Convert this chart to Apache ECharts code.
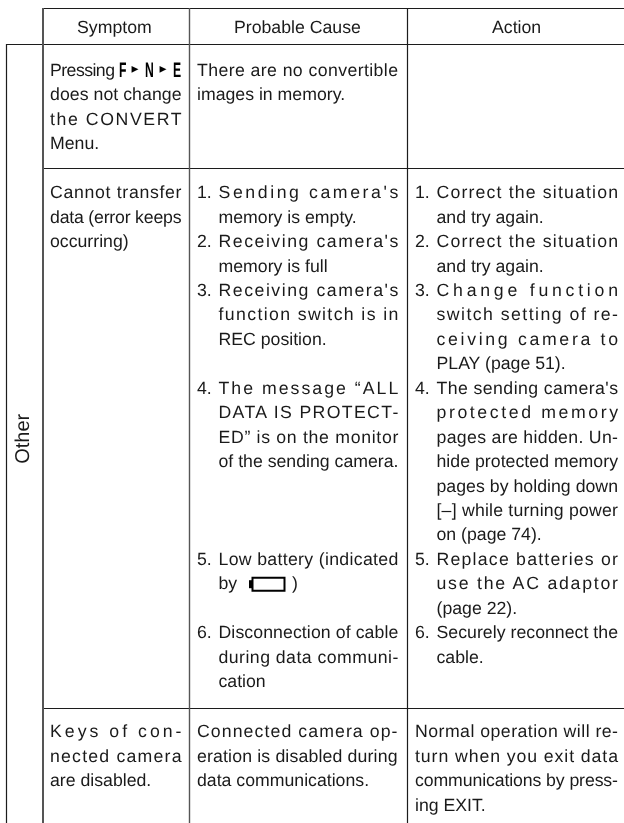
<!DOCTYPE html>
<html>
<head>
<meta charset="utf-8">
<style>
  html, body { margin: 0; padding: 0; background: #fff; }
  #main { width: 624px; height: 823px; }
</style>
<script src="https://cdn.jsdelivr.net/npm/echarts@6/dist/echarts.min.js"></script>
</head>
<body>
<div id="main"></div>
<script>
// table text, one entry per line of the page grid, '' is an empty grid line
const headers = ['Symptom', 'Probable Cause', 'Action'];
const sideLabel = 'Other';
const pressingWord = 'Pressing';
const keyLabels = ['F', 'N', 'E'];
const keyArrow = '\u25B8';
const batteryClose = ')';

const symptomRow1 = ['', 'does not change', 'the CONVERT', 'Menu.'];
const causeRow1 = ['There are no convertible', 'images in memory.'];

const symptomRow2 = ['Cannot transfer', 'data (error keeps', 'occurring)'];
const causeRow2 = [
  "1. Sending camera's", 'memory is empty.',
  "2. Receiving camera's", 'memory is full',
  "3. Receiving camera's", 'function switch is in', 'REC position.',
  '',
  '4. The message \u201CALL', 'DATA IS PROTECT-', 'ED\u201D is on the monitor', 'of the sending camera.',
  '', '', '',
  '5. Low battery (indicated', 'by',
  '',
  '6. Disconnection of cable', 'during data communi-', 'cation'
];
const actionRow2 = [
  '1. Correct the situation', 'and try again.',
  '2. Correct the situation', 'and try again.',
  '3. Change function', 'switch setting of re-', 'ceiving camera to', 'PLAY (page 51).',
  "4. The sending camera's", 'protected memory', 'pages are hidden. Un-', 'hide protected memory', 'pages by holding down', '[\u2013] while turning power', 'on (page 74).',
  '5. Replace batteries or', 'use the AC adaptor', '(page 22).',
  '6. Securely reconnect the', 'cable.'
];

const symptomRow3 = ['Keys of con-', 'nected camera', 'are disabled.'];
const causeRow3 = ['Connected camera op-', 'eration is disabled during', 'data communications.'];
const actionRow3 = ['Normal operation will re-', 'turn when you exit data', 'communications by press-', 'ing EXIT.'];

const FONT = '"Liberation Sans", Arial, sans-serif';
const SIZE = 17.7;
const STEP = 24.45;
const INK = '#1a1a1a';

// zrender has no letter spacing, so justified lines get it right before they are painted
const spacingFor = {};
const rawFillText = CanvasRenderingContext2D.prototype.fillText;
CanvasRenderingContext2D.prototype.fillText = function (text, x, y, w) {
  this.textRendering = 'geometricPrecision';
  this.letterSpacing = (spacingFor[text] || 0) + 'px';
  if (w === undefined) rawFillText.call(this, text, x, y);
  else rawFillText.call(this, text, x, y, w);
};

const measure = document.createElement('canvas').getContext('2d');
measure.font = SIZE + 'px ' + FONT;
measure.textRendering = 'geometricPrecision';

function fitSpacing(text, width) {
  const gaps = text.length - 1;
  measure.letterSpacing = '0px';
  let s = (width - measure.measureText(text).width) / gaps;
  // second pass, the measured width with spacing on is not always the sum
  measure.letterSpacing = s + 'px';
  s += (width - (measure.measureText(text).width - s)) / gaps;
  measure.letterSpacing = '0px';
  return s;
}

const elements = [];

function txt(text, x, y, extra) {
  elements.push(Object.assign({
    type: 'text', x: x, y: y + 0.8, silent: true,
    style: Object.assign({
      text: text, fill: INK, font: SIZE + 'px ' + FONT, textAlign: 'left', textVerticalAlign: 'middle'
    }, extra && extra.style)
  }, extra && extra.props));
}

function rule(x1, y1, x2, y2, color, width) {
  elements.push({
    type: 'line', silent: true,
    shape: { x1: x1, y1: y1, x2: x2, y2: y2 },
    style: { stroke: color, lineWidth: width }
  });
}

// lay a cell out on the line grid, a line is justified unless it ends a paragraph
function cell(lines, left, right, top, indent) {
  lines.forEach((line, i) => {
    if (!line) return;
    const y = top + i * STEP;
    const next = lines[i + 1];
    const last = !next || /^\d\./.test(next);
    let body = line;
    const num = line.match(/^(\d\.) (.*)$/);
    if (num) {
      txt(num[1], left, y);
      body = num[2];
    }
    const x = left + indent;
    if (!last && body.length > 1) spacingFor[body] = fitSpacing(body, right - x);
    txt(body, x, y);
  });
}

// grid lines
const BLACK = '#1c1c1c';
const GREY = '#555';
rule(43, 8.5, 624, 8.5, BLACK, 1.2);
rule(6, 44.5, 624, 44.5, BLACK, 1.2);
rule(43, 168.5, 624, 168.5, BLACK, 1.2);
rule(43, 708.5, 624, 708.5, BLACK, 1.2);
rule(6.5, 44, 6.5, 823, BLACK, 1.2);
rule(43, 8, 43, 823, GREY, 2);
rule(189.5, 8, 189.5, 823, GREY, 1.4);
rule(407.5, 8, 407.5, 823, BLACK, 1.2);

// header
txt(headers[0], 77, 27.5);
txt(headers[1], 234, 27.5);
txt(headers[2], 492, 27.5);

// rotated side label
txt(sideLabel, 23.5, 463, { props: { rotation: Math.PI / 2 }, style: { font: '20px ' + FONT } });

// row 1, the key names are tall narrow glyphs, squeezed from the bold face
txt(pressingWord, 50, 70);
spacingFor[pressingWord] = fitSpacing(pressingWord, 65);
const keyX = [119, 145, 173];
const arrowX = [131.5, 159.5];
keyLabels.forEach((k, i) => {
  txt(k, keyX[i], 70, {
    props: { scaleX: 0.58 },
    style: { font: 'bold 21px ' + FONT, fill: '#000' }
  });
});
arrowX.forEach(x => {
  txt(keyArrow, x, 69, { style: { font: '14px "DejaVu Sans"', fill: '#000' } });
});
cell(symptomRow1, 50, 181.5, 70, 0);
cell(causeRow1, 197, 398, 70, 0);

// row 2
cell(symptomRow2, 50, 181.5, 192.5, 0);
cell(causeRow2, 197, 398.3, 192.5, 21.5);
cell(actionRow2, 415, 618, 192.5, 21.5);

// battery icon in the "by" line
const batteryY = 192.5 + 16 * STEP;
elements.push({
  type: 'rect', silent: true,
  shape: { x: 252.5, y: batteryY - 6, width: 32, height: 13 },
  style: { fill: '#fff', stroke: '#000', lineWidth: 2 }
});
elements.push({
  type: 'rect', silent: true,
  shape: { x: 249, y: batteryY - 3.5, width: 3, height: 8 },
  style: { fill: '#000' }
});
txt(batteryClose, 292, batteryY);

// row 3
cell(symptomRow3, 50, 181.5, 731.5, 0);
cell(causeRow3, 197, 397.5, 731.5, 0);
cell(actionRow3, 415, 618, 731.5, 0);

const chart = echarts.init(document.getElementById('main'));
chart.setOption({
  backgroundColor: '#fff',
  animation: false,
  graphic: { elements: elements }
});
</script>
</body>
</html>
